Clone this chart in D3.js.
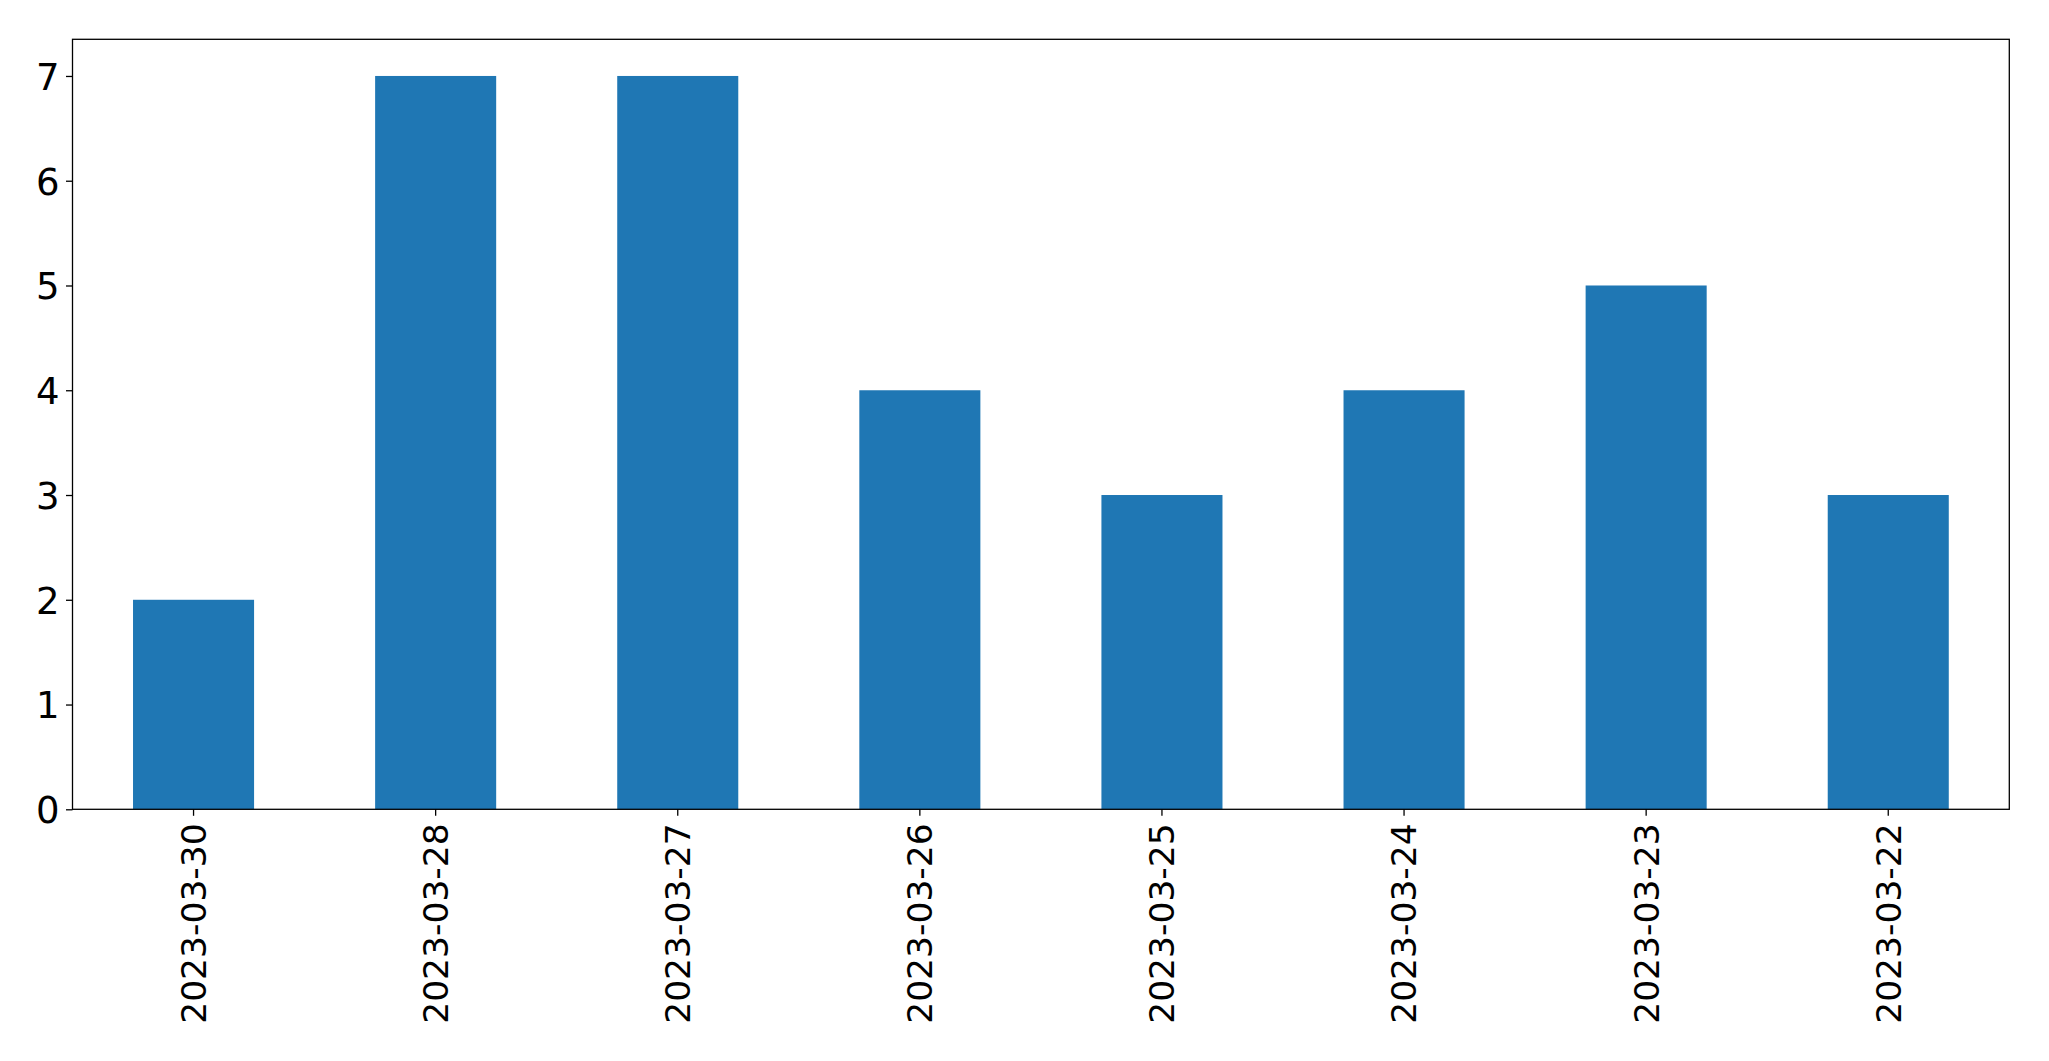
<!DOCTYPE html>
<html>
<head>
<meta charset="utf-8">
<script src="https://cdn.jsdelivr.net/npm/d3@7"></script>
<style>
  body { margin: 0; background: #fff; }
  svg { display: block; }
  .tick text { font-family: "DejaVu Sans", sans-serif; fill: #000; }
  .y-axis .tick text { font-size: 37px; }
  .x-axis .tick text { font-size: 34.5px; }
</style>
</head>
<body>
<script>
// dates on x axis (in the order shown)
var dates = ["2023-03-30", "2023-03-28", "2023-03-27", "2023-03-26",
             "2023-03-25", "2023-03-24", "2023-03-23", "2023-03-22"];
// counts per date
var counts = [2, 7, 7, 4, 3, 4, 5, 3];
// y tick labels
var yTicks = [0, 1, 2, 3, 4, 5, 6, 7];

var w = 2049;
var h = 1061;
var margin = {top: 39.3, right: 2049 - 2009.3, bottom: 1061 - 809.3, left: 72.5};
var iw = w - margin.left - margin.right;
var ih = h - margin.top - margin.bottom;

var svg = d3.select("body")
            .append("svg")
            .attr("width", w)
            .attr("height", h);

var g = svg.append("g")
           .attr("transform", "translate(" + margin.left + "," + margin.top + ")");

var x = d3.scaleBand()
          .domain(dates)
          .range([0, iw])
          .paddingInner(0.5)
          .paddingOuter(0.25);

var y = d3.scaleLinear()
          .domain([0, 7 * 1.05])
          .range([ih, 0]);

// bars
g.selectAll("rect.bar")
 .data(counts)
 .enter()
 .append("rect")
 .attr("class", "bar")
 .attr("x", function(d, i) { return x(dates[i]); })
 .attr("y", function(d) { return y(d); })
 .attr("width", x.bandwidth())
 .attr("height", function(d) { return ih - y(d); })
 .attr("fill", "#1f77b4");

// y axis
var yAxis = g.append("g")
  .attr("class", "y-axis")
  .call(d3.axisLeft(y).tickValues(yTicks).tickSize(6.5).tickPadding(6.5).tickFormat(d3.format("d")));
yAxis.select(".domain").remove();
yAxis.selectAll(".tick line").attr("stroke", "#000").attr("stroke-width", 1.3);
yAxis.selectAll(".tick text").attr("dy", "0.36em");

// x axis
var xAxis = g.append("g")
  .attr("class", "x-axis")
  .attr("transform", "translate(0," + ih + ")")
  .call(d3.axisBottom(x).tickSize(6.5).tickPadding(6.5));
xAxis.select(".domain").remove();
xAxis.selectAll(".tick line").attr("stroke", "#000").attr("stroke-width", 1.3);
xAxis.selectAll(".tick text")
     .attr("transform", "rotate(-90)")
     .attr("text-anchor", "end")
     .attr("x", -14)
     .attr("y", 0)
     .attr("dy", "0.36em");

// frame
g.append("rect")
 .attr("x", 0)
 .attr("y", 0)
 .attr("width", iw)
 .attr("height", ih)
 .attr("fill", "none")
 .attr("stroke", "#000")
 .attr("stroke-width", 1.3);
</script>
</body>
</html>
